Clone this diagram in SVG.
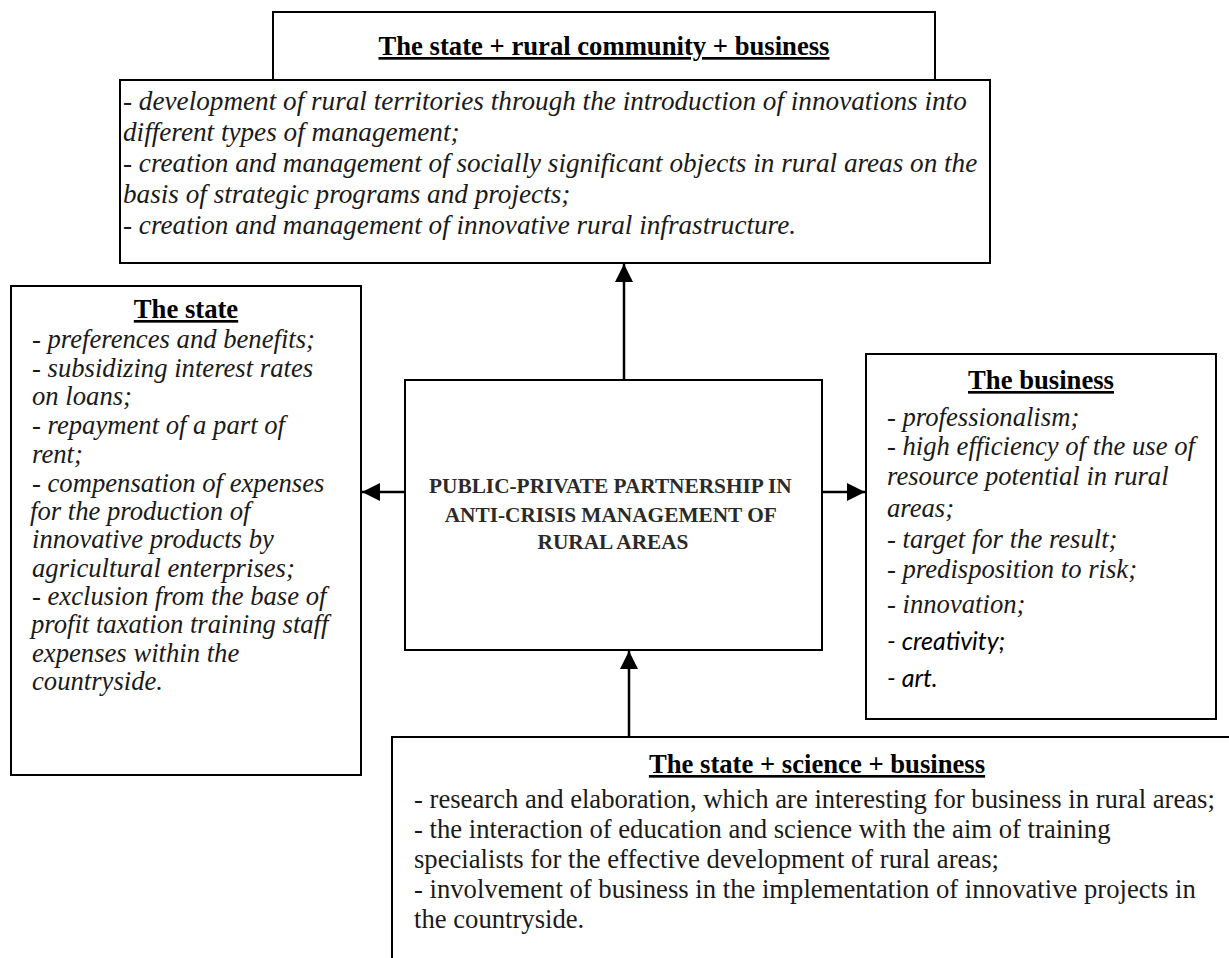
<svg xmlns="http://www.w3.org/2000/svg" width="1229" height="958" viewBox="0 0 1229 958">
<defs>
<style>
.box{fill:#fff;stroke:#000;stroke-width:2}
.t{font-family:"Liberation Serif","Times New Roman",serif;font-size:26.67px;fill:#1a1a1a}
.big{font-size:27.2px}
.i{font-style:italic}
.ti{font-family:"Liberation Serif","Times New Roman",serif;font-size:26.67px;font-weight:bold;fill:#000;text-decoration:underline}
.c{font-family:"Liberation Serif","Times New Roman",serif;font-size:21.3px;font-weight:bold;fill:#2a2a2a}
.sans{font-family:Lato,"Liberation Sans",sans-serif;font-style:italic;font-size:25px;fill:#000}
.ln{stroke:#000;stroke-width:2.5;fill:none}
</style>
<marker id="ah" markerUnits="userSpaceOnUse" markerWidth="18" markerHeight="18" viewBox="0 0 16 16" refX="16" refY="8" orient="auto">
<path d="M0,0 L16,8 L0,16 Z" fill="#000"/>
</marker>
</defs>
<rect width="1229" height="958" fill="#fff"/>

<g id="connectors">
<line class="ln" x1="624" y1="380" x2="624" y2="264" marker-end="url(#ah)"/>
<line class="ln" x1="405" y1="492" x2="362" y2="492" marker-end="url(#ah)"/>
<line class="ln" x1="822" y1="492" x2="865" y2="492" marker-end="url(#ah)"/>
<line class="ln" x1="629" y1="737" x2="629" y2="651" marker-end="url(#ah)"/>
</g>

<g id="node-top">
<rect class="box" x="273" y="12" width="662" height="68"/>
<text class="ti" x="604" y="55" text-anchor="middle">The state + rural community + business</text>
<rect class="box" x="120" y="80" width="870" height="183"/>
<text class="t big i">
<tspan x="123" y="110">- development of rural territories through the introduction of innovations into</tspan>
<tspan x="123" y="141">different types of management;</tspan>
<tspan x="123" y="172">- creation and management of socially significant objects in rural areas on the</tspan>
<tspan x="123" y="203">basis of strategic programs and projects;</tspan>
<tspan x="123" y="234">- creation and management of innovative rural infrastructure.</tspan>
</text>
</g>

<g id="node-state">
<rect class="box" x="11" y="286" width="350" height="489"/>
<text class="ti" x="186" y="318" text-anchor="middle">The state</text>
<text class="t i">
<tspan x="32" y="348">- preferences and benefits;</tspan>
<tspan x="32" y="377">- subsidizing interest rates</tspan>
<tspan x="32" y="405">on loans;</tspan>
<tspan x="32" y="434">- repayment of a part of</tspan>
<tspan x="32" y="463">rent;</tspan>
<tspan x="32" y="492">- compensation of expenses</tspan>
<tspan x="30" y="520">for the production of</tspan>
<tspan x="32" y="548">innovative products by</tspan>
<tspan x="32" y="577">agricultural enterprises;</tspan>
<tspan x="32" y="605">- exclusion from the base of</tspan>
<tspan x="31" y="633">profit taxation training staff</tspan>
<tspan x="32" y="662">expenses within the</tspan>
<tspan x="32" y="690">countryside.</tspan>
</text>
</g>

<g id="node-center">
<rect class="box" x="405" y="380" width="417" height="270"/>
<text class="c" text-anchor="middle">
<tspan x="613" y="493">PUBLIC-PRIVATE PARTNERSHIP IN</tspan>
<tspan x="613" y="522">ANTI-CRISIS MANAGEMENT OF</tspan>
<tspan x="613" y="549">RURAL AREAS</tspan>
</text>
</g>

<g id="node-business">
<rect class="box" x="866" y="354" width="350" height="365"/>
<text class="ti" x="1041" y="389" text-anchor="middle">The business</text>
<text class="t i">
<tspan x="887" y="426">- professionalism;</tspan>
<tspan x="887" y="455">- high efficiency of the use of</tspan>
<tspan x="887" y="485">resource potential in rural</tspan>
<tspan x="887" y="517">areas;</tspan>
<tspan x="887" y="548">- target for the result;</tspan>
<tspan x="887" y="578">- predisposition to risk;</tspan>
<tspan x="887" y="613">- innovation;</tspan>
</text>
<text class="sans">
<tspan x="887" y="650">- creativity;</tspan>
<tspan x="887" y="687">- art.</tspan>
</text>
</g>

<g id="node-bottom">
<rect class="box" x="392" y="737" width="850" height="240"/>
<text class="ti" x="817" y="773" text-anchor="middle">The state + science + business</text>
<text class="t">
<tspan x="414" y="808">- research and elaboration, which are interesting for business in rural areas;</tspan>
<tspan x="414" y="838">- the interaction of education and science with the aim of training</tspan>
<tspan x="414" y="868">specialists for the effective development of rural areas;</tspan>
<tspan x="414" y="898">- involvement of business in the implementation of innovative projects in</tspan>
<tspan x="414" y="928">the countryside.</tspan>
</text>
</g>
</svg>
